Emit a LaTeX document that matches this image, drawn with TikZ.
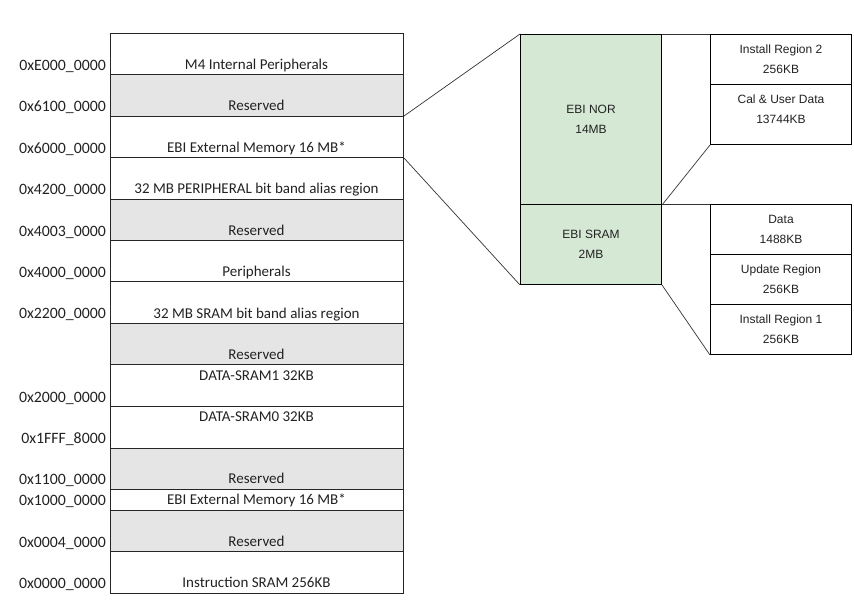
\documentclass[tikz,border=0pt]{standalone}
\usepackage{fontspec}
\setmainfont{Carlito}
\newfontfamily\arialfont{Liberation Sans}
\usetikzlibrary{positioning}
\definecolor{resgray}{HTML}{E5E5E5}
\definecolor{ebigreen}{HTML}{D5E8D4}
\definecolor{inkgray}{HTML}{222222}
\tikzset{
    region/.style={
            rectangle,
            draw=black!85,
            line width=1pt,
            minimum width=293pt,
            anchor=north west,
            inner sep=0pt
        },
    reserved/.style={
            region,
            fill=resgray
        },
    regiontext/.style={
            anchor=base,
            inner sep=0pt,
            text=inkgray,
            font=\fontsize{15}{17}\selectfont
        },
    addr/.style={
            anchor=base east,
            inner sep=0pt,
            text=inkgray,
            font=\fontsize{15.8}{17}\selectfont
        },
    ebi/.style={
            rectangle,
            draw=black,
            line width=1pt,
            fill=ebigreen,
            minimum width=141pt,
            anchor=north west,
            inner sep=0pt,
            align=center,
            text=inkgray,
            font=\arialfont\fontsize{12}{20}\selectfont
        },
    part/.style={
            ebi,
            fill=white
        },
    parttext/.style={
            inner sep=0pt,
            align=center,
            text=inkgray,
            font=\arialfont\fontsize{12}{20}\selectfont
        },
    connector/.style={
            draw=black!80,
            line width=0.7pt
        }
}

\begin{document}
\begin{tikzpicture}[x=1pt,y=-1pt]
  \useasboundingbox (0,0) rectangle (854,611);
  \foreach \n/\y/\h/\st/\ty/\txt in {
      1/33/41/region/65/M4 Internal Peripherals,
      2/74/42/reserved/106/Reserved,
      3/116/41/region/148/EBI External Memory 16 MB*,
      4/157/42/region/189/32 MB PERIPHERAL bit band alias region,
      5/199/41/reserved/231/Reserved,
      6/240/41/region/272/Peripherals,
      7/281/42/region/314/32 MB SRAM bit band alias region,
      8/323/41/reserved/355/Reserved,
      9/364/42/region/376/DATA-SRAM1 32KB,
      10/406/42/region/417/DATA-SRAM0 32KB,
      11/448/41/reserved/479/Reserved,
      12/489/21/region/500/EBI External Memory 16 MB*,
      13/510/41/reserved/542/Reserved,
      14/551/42/region/583/Instruction SRAM 256KB}{
    \node[\st, minimum height=\h pt] (row\n) at (110,\y) {};
    \node[regiontext] (text\n) at (256.5,\ty+4.8) {\txt};
  }
  \foreach \n/\ty/\txt in {
      1/65/0xE000\_0000, 2/106/0x6100\_0000, 3/148/0x6000\_0000,
      4/189/0x4200\_0000, 5/231/0x4003\_0000, 6/272/0x4000\_0000,
      7/313/0x2200\_0000, 8/397/0x2000\_0000, 9/438/0x1FFF\_8000,
      10/479/0x1100\_0000, 11/500/0x1000\_0000, 12/542/0x0004\_0000,
      13/583/0x0000\_0000}{
    \node[addr] (addr\n) at (106,\ty+5) {\txt};
  }

  \node[ebi, minimum height=170pt] (nor) at (520,34) {EBI NOR\\14MB};
  \node[ebi, minimum height=80pt] (sram) at (520,204) {EBI SRAM\\2MB};

  \node[part, minimum height=50pt] (inst2) at (710,34) {Install Region 2\\256KB};
  \node[part, minimum height=60pt] (cal) at (710,84) {};
  \node[parttext, below=11pt of cal.north] (caltext) {Cal \& User Data\\13744KB};
  \node[part, minimum height=50pt] (data) at (710,204) {Data\\1488KB};
  \node[part, minimum height=50pt] (update) at (710,254) {Update Region\\256KB};
  \node[part, minimum height=50pt] (inst1) at (710,304) {Install Region 1\\256KB};

  \path [connector] (row3.north east) edge (nor.north west);
  \path [connector] (row3.south east) edge (sram.south west);
  \path [connector] (nor.north east) edge (inst2.north west);
  \path [connector] (nor.south east) edge (cal.south west);
  \path [connector] (sram.north east) edge (data.north west);
  \path [connector] (sram.south east) edge (inst1.south west);
\end{tikzpicture}
\end{document}
